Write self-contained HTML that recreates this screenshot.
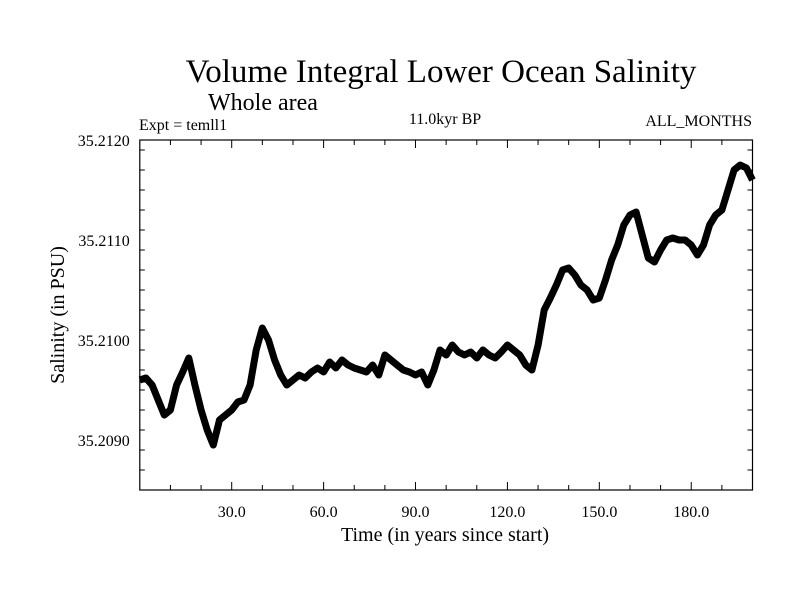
<!DOCTYPE html>
<html><head><meta charset="utf-8"><style>
body{margin:0;background:#fff;}
svg text{font-family:"Liberation Serif",serif;fill:#000;}
</style></head><body>
<svg id="chart" width="800" height="600" xmlns="http://www.w3.org/2000/svg">
<rect width="800" height="600" fill="#fff"/>
<text x="441" y="82" font-size="33" text-anchor="middle">Volume Integral Lower Ocean Salinity</text>
<text x="263" y="110" font-size="24" text-anchor="middle">Whole area</text>
<text x="139" y="130" font-size="16">Expt = temll1</text>
<text x="445" y="124" font-size="16" text-anchor="middle">11.0kyr BP</text>
<text x="752" y="126" font-size="16" text-anchor="end">ALL_MONTHS</text>
<text x="445" y="541" font-size="20" text-anchor="middle">Time (in years since start)</text>
<text transform="translate(64,315) rotate(-90)" font-size="20" text-anchor="middle">Salinity (in PSU)</text>
<g id="axes"></g>
<g id="series"></g>
</svg>
<script>
const years=[0,2,4,6,8,10,12,14,16,18,20,22,24,26,28,30,32,34,36,38,40,42,44,46,48,50,52,54,56,58,60,62,64,66,68,70,72,74,76,78,80,82,84,86,88,90,92,94,96,98,100,102,104,106,108,110,112,114,116,118,120,122,124,126,128,130,132,134,136,138,140,142,144,146,148,150,152,154,156,158,160,162,164,166,168,170,172,174,176,178,180,182,184,186,188,190,192,194,196,198,200];
const pixY=[380,378,385,400,415,410,385,372,358,385,410,430,445,420,415,410,402,400,385,350,328,340,360,375,385,380,375,378,372,368,372,362,368,360,365,368,370,372,365,375,355,360,365,370,372,375,372,385,370,350,355,345,352,355,352,358,350,355,358,352,345,350,355,365,370,345,310,298,285,270,268,275,285,290,300,298,280,260,245,225,215,212,235,258,262,250,240,238,240,240,245,255,245,225,215,210,190,170,165,168,180];
const salinity=pixY.map(y=>+(35.2120-(y-140)*0.00001).toFixed(5));
const xTickValues=[30,60,90,120,150,180];
const xTickLabels=["30.0","60.0","90.0","120.0","150.0","180.0"];
const yTickValues=[35.2090,35.2100,35.2110,35.2120];
const yTickLabels=["35.2090","35.2100","35.2110","35.2120"];

const L=139.8,R=752.5,T=140,B=490;
const xMin=0,xMax=200,yMin=35.2085,yMax=35.2120;
const sx=v=>L+(v-xMin)/(xMax-xMin)*(R-L);
const sy=v=>B-(v-yMin)/(yMax-yMin)*(B-T);
const NS="http://www.w3.org/2000/svg";
const axes=document.getElementById('axes');
function mk(tag,attrs,parent){const e=document.createElementNS(NS,tag);for(const k in attrs)e.setAttribute(k,attrs[k]);parent.appendChild(e);return e;}
const frame=mk('rect',{x:L,y:T,width:R-L,height:B-T,fill:'none',stroke:'#000','stroke-width':1.2},axes);


for(let v=10;v<xMax;v+=10){
  const major=xTickValues.includes(v);const len=major?8:5;
  const t1=mk('line',{x1:sx(v),x2:sx(v),y1:B,y2:B-len,stroke:'#000'},axes);
  
  
  const t2=mk('line',{x1:sx(v),x2:sx(v),y1:T,y2:T+len,stroke:'#000'},axes);
  
  
}
xTickValues.forEach((v,i)=>{
  const t=mk('text',{x:sx(v),y:B+27,'font-size':16,'text-anchor':'middle'},axes);
  t.textContent=xTickLabels[i];
  
  
});
for(let k=1;k<18;k++){
  const v=yMin+k*0.0002;const py=B-k*20*(B-T)/350;
  const major=Math.abs(((v-35.2090)/0.001)-Math.round((v-35.2090)/0.001))<1e-6;const len=major?8:5;
  const t1=mk('line',{x1:L,x2:L+len,y1:py,y2:py,stroke:'#000'},axes);
  
  
  const t2=mk('line',{x1:R,x2:R-len,y1:py,y2:py,stroke:'#000'},axes);
  
  
}
yTickValues.forEach((v,i)=>{
  const t=mk('text',{x:L-10,y:sy(v)+6,'font-size':16,'text-anchor':'end'},axes);
  t.textContent=yTickLabels[i];
  
  
});
const pts=years.map((t,i)=>sx(t).toFixed(1)+','+sy(salinity[i]).toFixed(1)).join(' ');
const line=mk('polyline',{points:pts,fill:'none',stroke:'#000','stroke-width':7,'stroke-linejoin':'round'},document.getElementById('series'));


</script>
</body></html>
